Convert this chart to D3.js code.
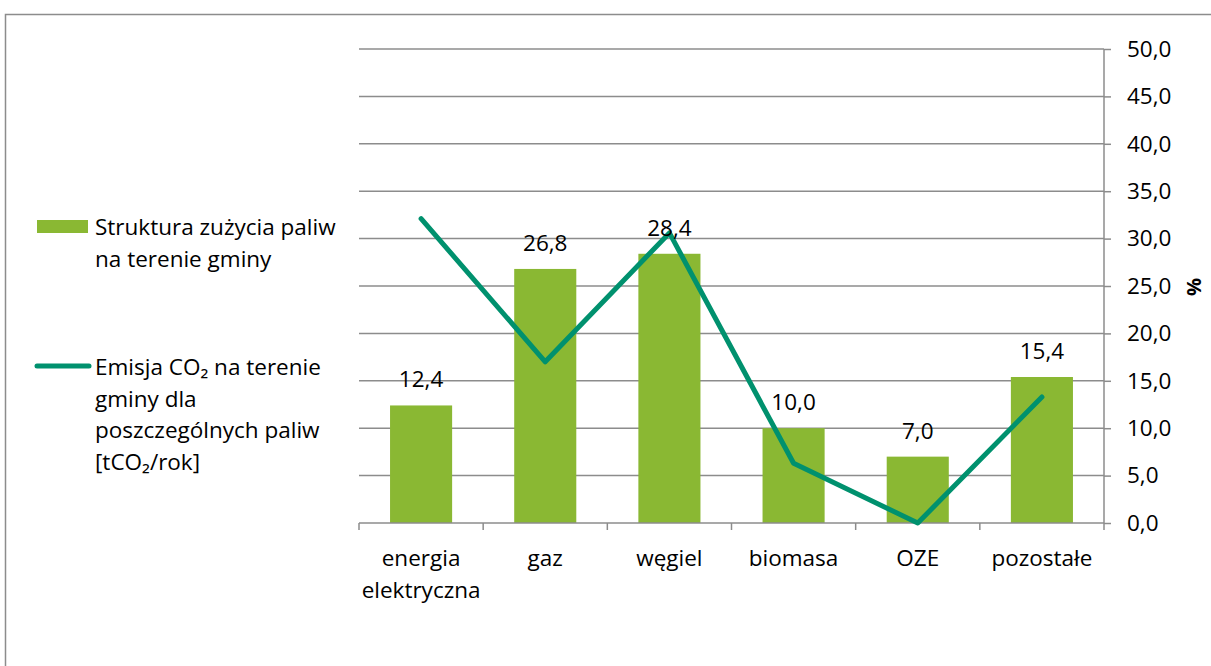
<!DOCTYPE html>
<html><head><meta charset="utf-8">
<script src="https://cdn.jsdelivr.net/npm/d3@7"></script>
<style>body{margin:0;background:#fff}svg{display:block}text{font-family:"Open Sans",sans-serif;fill:#000}</style>
</head><body>
<script>
const categories = [["energia","elektryczna"],["gaz"],["węgiel"],["biomasa"],["OZE"],["pozostałe"]];
const barValues = [12.4, 26.8, 28.4, 10.0, 7.0, 15.4];
const lineValues = [32.1, 17.0, 30.6, 6.3, 0.0, 13.3];
const yTicks = [0,5,10,15,20,25,30,35,40,45,50];
const seriesNames = [["Struktura zużycia paliw","na terenie gminy"],["Emisja CO₂ na terenie","gminy dla","poszczególnych paliw","[tCO₂/rok]"]];

const W=1211,H=666,FS=22.5;
const svg=d3.select("body").append("svg").attr("width",W).attr("height",H);
svg.append("rect").attr("x",5.5).attr("y",14.5).attr("width",1300).attr("height",700).attr("fill","none").attr("stroke","#8c8c8c").attr("stroke-width",1.5);

const L=359,R=1104,T=49,B=523;
const x=d3.scaleBand().domain(d3.range(categories.length)).range([L,R]).paddingInner(0.5).paddingOuter(0.25);
const y=d3.scaleLinear().domain([0,50]).range([B,T]);
const fmt=v=>d3.format(".1f")(v).replace(".",",");

// grid
svg.append("g").selectAll("line").data(yTicks.filter(d=>d>0)).join("line")
  .attr("x1",L).attr("x2",R).attr("y1",d=>y(d)).attr("y2",d=>y(d))
  .attr("stroke","#8c8c8c").attr("stroke-width",1.5);

// bars
svg.append("g").selectAll("rect").data(barValues).join("rect")
  .attr("x",(d,i)=>x(i)).attr("width",x.bandwidth()).attr("y",d=>y(d)).attr("height",d=>B-y(d))
  .attr("fill","#8ab833");

// right axis
const ay=svg.append("g").attr("transform",`translate(${R},0)`).call(d3.axisRight(y).tickValues(yTicks).tickFormat(fmt).tickSize(7).tickPadding(16));
ay.select(".domain").attr("stroke","#8c8c8c").attr("stroke-width",1.5).attr("d",`M0,${B}V${T}`);
ay.selectAll(".tick line").attr("stroke","#8c8c8c").attr("stroke-width",1.5);
ay.selectAll(".tick text").attr("font-size",FS).attr("font-family","'Open Sans',sans-serif").attr("fill","#000");

// bottom axis
const bounds=d3.range(categories.length+1).map(i=>L+i*(R-L)/categories.length);
svg.append("line").attr("x1",L).attr("x2",R).attr("y1",B).attr("y2",B).attr("stroke","#8c8c8c").attr("stroke-width",1.5);
svg.append("g").selectAll("line").data(bounds).join("line").attr("x1",d=>d).attr("x2",d=>d).attr("y1",B).attr("y2",B+7).attr("stroke","#8c8c8c").attr("stroke-width",1.5);
const cl=svg.append("g").selectAll("text").data(categories).join("text")
  .attr("x",(d,i)=>x(i)+x.bandwidth()/2).attr("y",566).attr("text-anchor","middle").attr("font-size",FS);
cl.each(function(d){const t=d3.select(this);d.forEach((s,j)=>t.append("tspan").attr("x",t.attr("x")).attr("dy",j?32:0).text(s));});

// line
const line=d3.line().x((d,i)=>x(i)+x.bandwidth()/2).y(d=>y(d));
svg.append("path").datum(lineValues).attr("d",line).attr("fill","none").attr("stroke","#00916e").attr("stroke-width",5).attr("stroke-linejoin","round").attr("stroke-linecap","round");

// data labels
svg.append("g").selectAll("text").data(barValues).join("text")
  .attr("x",(d,i)=>x(i)+x.bandwidth()/2).attr("y",d=>y(d)-18).attr("text-anchor","middle").attr("font-size",FS).text(fmt);

// % title
svg.append("text").attr("transform","translate(1187,287) rotate(90)").attr("font-size",20).attr("font-weight","bold").attr("text-anchor","middle").text("%");

// legend
svg.append("rect").attr("x",37).attr("y",220).attr("width",51).attr("height",13).attr("fill","#8ab833");
svg.append("line").attr("x1",37).attr("x2",89).attr("y1",366).attr("y2",366).attr("stroke","#00916e").attr("stroke-width",5).attr("stroke-linecap","round");
const lt=svg.append("g").selectAll("text").data(seriesNames).join("text").attr("x",95).attr("y",(d,i)=>i?375:235).attr("font-size",FS);
lt.each(function(d){const t=d3.select(this);d.forEach((s,j)=>t.append("tspan").attr("x",95).attr("dy",j?31.7:0).text(s));});
</script>
</body></html>
